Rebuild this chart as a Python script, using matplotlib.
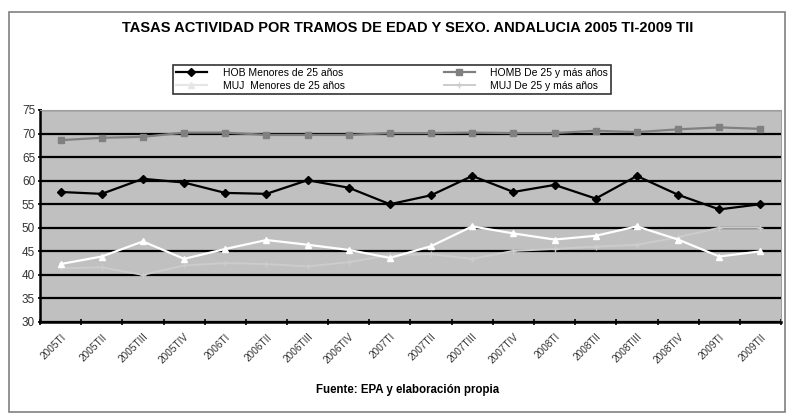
import numpy as np
import matplotlib
matplotlib.use("Agg")
import matplotlib.pyplot as plt
from matplotlib.patches import Rectangle
from matplotlib.lines import Line2D

plt.rcParams['font.family'] = ['Liberation Sans', 'DejaVu Sans']

### DATA ###
periodos = ["2005TI", "2005TII", "2005TIII", "2005TIV",
            "2006TI", "2006TII", "2006TIII", "2006TIV",
            "2007TI", "2007TII", "2007TIII", "2007TIV",
            "2008TI", "2008TII", "2008TIII", "2008TIV",
            "2009TI", "2009TII"]
hob_menores = [57.6, 57.2, 60.4, 59.6, 57.4, 57.2, 60.1, 58.5, 55.0,
               56.9, 61.0, 57.6, 59.1, 56.2, 61.0, 57.0, 53.9, 55.0]
homb_mayores = [68.6, 69.1, 69.3, 70.2, 70.2, 69.7, 69.7, 69.7, 70.1,
                70.1, 70.2, 70.1, 70.1, 70.6, 70.3, 70.9, 71.3, 71.0]
muj_menores = [42.3, 43.9, 47.1, 43.4, 45.5, 47.4, 46.4, 45.3, 43.6,
               46.1, 50.3, 48.8, 47.5, 48.3, 50.3, 47.5, 43.9, 45.0]
muj_mayores = [41.4, 41.6, 40.0, 42.0, 42.5, 42.3, 41.8, 42.7, 44.2,
               44.4, 43.4, 45.1, 45.5, 46.0, 46.4, 48.0, 50.0, 50.0]

### PLOTTING ###
fig = plt.figure(figsize=(7.86, 4.15), dpi=100)
fig.patches.append(Rectangle((9/786, 1-412/415), 776/786, 400/415, transform=fig.transFigure,
                             fill=False, edgecolor='#808080', linewidth=1.2))

ax = fig.add_axes([40/786, 1-322/415, 741/786, 212/415])
ax.set_facecolor('#c0c0c0')
x = np.arange(len(periodos))

ax.plot(x, hob_menores, color='black', marker='D', markersize=4, linewidth=1.6,
        label="HOB Menores de 25 años", zorder=5)
ax.plot(x, homb_mayores, color='#808080', marker='s', markersize=5, linewidth=1.6,
        label="HOMB De 25 y más años", zorder=4)
ax.plot(x, muj_menores, color='white', marker='^', markersize=5, linewidth=1.6,
        label="MUJ  Menores de 25 años", zorder=4)
ax.plot(x, muj_mayores, color='#cccccc', marker='+', markersize=5, linewidth=1.4,
        label="MUJ De 25 y más años", zorder=3)

ax.set_xlim(-0.5, len(periodos) - 0.5)
ax.set_ylim(30, 75)
ax.set_yticks(np.arange(30, 76, 5))
ax.yaxis.grid(True, color='black', linewidth=1.6)
ax.set_axisbelow(True)
ax.tick_params(axis='y', labelsize=8.5, labelcolor='#333333', length=3, width=1.2, direction='inout', pad=2)

ax.set_xticks(np.arange(len(periodos) + 1) - 0.5)
ax.set_xticklabels([])
ax.set_xticks(x, minor=True)
ax.set_xticklabels(periodos, minor=True, rotation=45, ha='right', va='top',
                   rotation_mode='anchor', fontsize=7.2, color='#333333')
ax.tick_params(axis='x', which='major', length=4, width=1.2, direction='inout')
ax.tick_params(axis='x', which='minor', length=0, pad=7)

for side in ['left', 'bottom']:
    ax.spines[side].set_linewidth(1.8)
ax.spines['top'].set_color('#a0a0a0')
ax.spines['right'].set_color('#a0a0a0')

# legend: handles drawn as in the reference (white series shown as faint grey)
h = [Line2D([], [], color='black', marker='D', markersize=4, linewidth=1.6),
     Line2D([], [], color='#e6e6e6', marker='^', markersize=5, linewidth=1.6),
     Line2D([], [], color='#808080', marker='s', markersize=5, linewidth=1.6),
     Line2D([], [], color='#cccccc', marker='+', markersize=5, linewidth=1.4)]
labels = ["HOB Menores de 25 años", "MUJ  Menores de 25 años",
          "HOMB De 25 y más años", "MUJ De 25 y más años"]
leg = fig.legend(h, labels, ncol=2,
                 loc='center', bbox_to_anchor=(392/786, 1-79.5/415),
                 fontsize=7.5, frameon=True, fancybox=False, edgecolor='black',
                 handlelength=3, columnspacing=9.5, labelspacing=0.3,
                 borderpad=0.3, handletextpad=1.5, borderaxespad=0)
leg.get_frame().set_linewidth(1.2)

fig.text(408/786, 1-28/415, "TASAS ACTIVIDAD POR TRAMOS DE EDAD Y SEXO. ANDALUCIA 2005 TI-2009 TII",
         ha='center', va='center', fontsize=10.5, fontweight='bold')
fig.text(408/786, 1-390/415, "Fuente: EPA y elaboración propia",
         ha='center', va='center', fontsize=8.3, fontweight='bold')

plt.savefig("out.png", dpi=100)
